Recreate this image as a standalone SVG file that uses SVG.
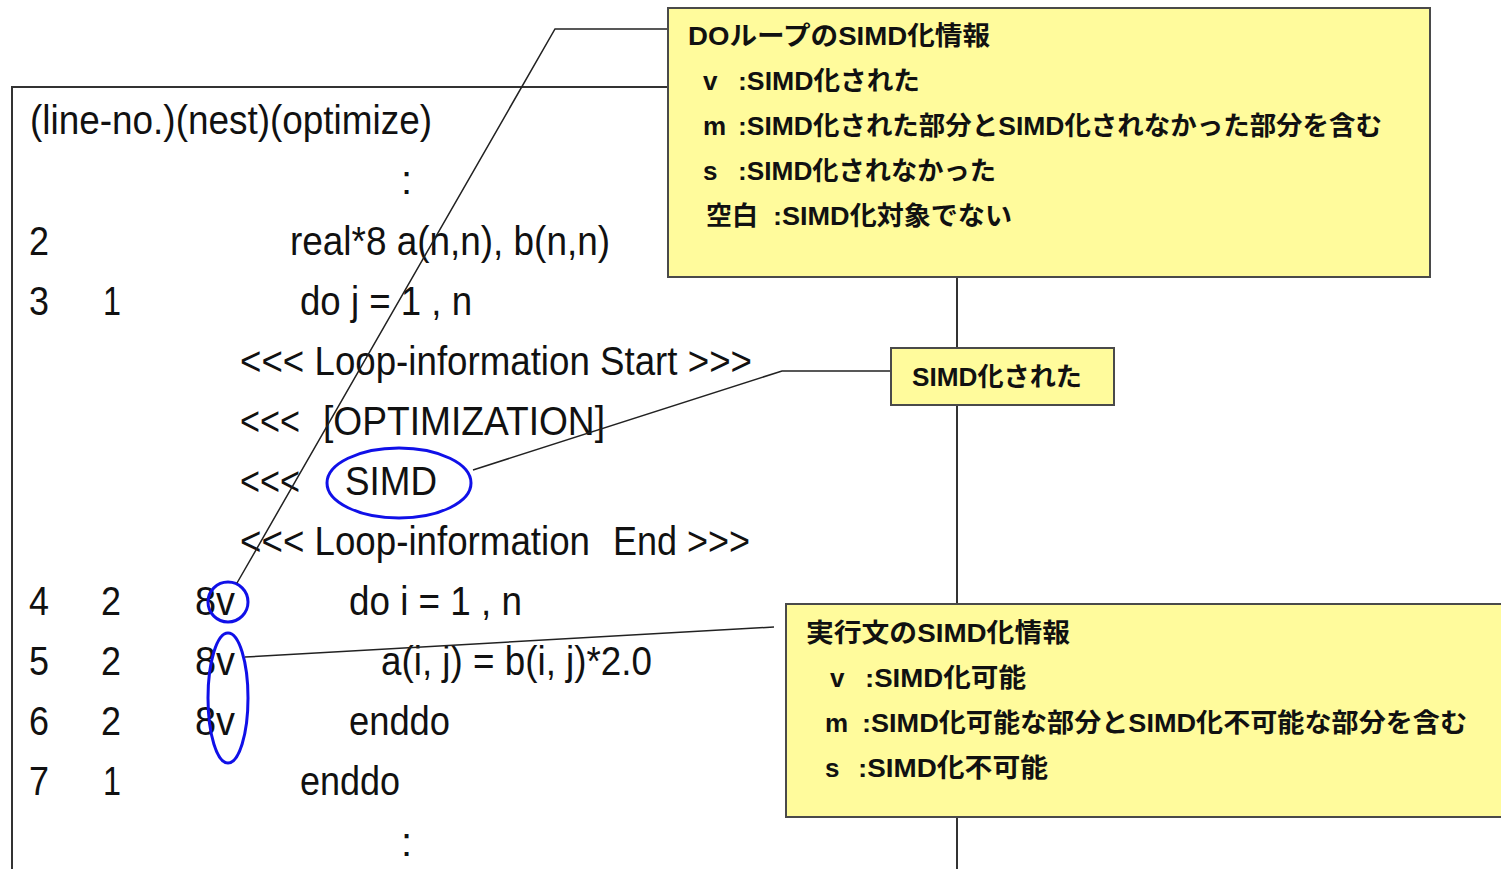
<svg xmlns="http://www.w3.org/2000/svg" width="1501" height="869" viewBox="0 0 1501 869">
<style>
.code{font-family:"Liberation Sans",Arial,sans-serif;font-size:40px;fill:#111}
.note{font-family:"Liberation Sans","Noto Sans CJK JP",sans-serif;font-size:26px;font-weight:bold;fill:#111}
.box{fill:#FFFB9C;stroke:#4a4a4a;stroke-width:2}
.frame{fill:none;stroke:#333;stroke-width:2}
.lead{fill:none;stroke:#222;stroke-width:1.5}
.mark{fill:none;stroke:#1010E8;stroke-width:3}
</style>
<rect width="1501" height="869" fill="#fff"/>
<g id="listing">
<path class="frame" d="M12,869 V87 H957 V869"/>
<text class="code" x="30" y="134" textLength="402" lengthAdjust="spacingAndGlyphs">(line-no.)(nest)(optimize)</text>
<text class="code" x="401" y="194">:</text>
<text class="code" x="29" y="255" textLength="20" lengthAdjust="spacingAndGlyphs">2</text>
<text class="code" x="290" y="255" textLength="320" lengthAdjust="spacingAndGlyphs">real*8 a(n,n), b(n,n)</text>
<text class="code" x="29" y="315" textLength="20" lengthAdjust="spacingAndGlyphs">3</text>
<text class="code" x="103" y="315" textLength="18" lengthAdjust="spacingAndGlyphs">1</text>
<text class="code" x="300" y="315" textLength="172" lengthAdjust="spacingAndGlyphs">do j = 1 , n</text>
<text class="code" x="240" y="375" textLength="512" lengthAdjust="spacingAndGlyphs">&lt;&lt;&lt; Loop-information Start &gt;&gt;&gt;</text>
<text class="code" x="240" y="435" textLength="60" lengthAdjust="spacingAndGlyphs">&lt;&lt;&lt;</text>
<text class="code" x="323" y="435" textLength="282" lengthAdjust="spacingAndGlyphs">[OPTIMIZATION]</text>
<text class="code" x="240" y="495" textLength="60" lengthAdjust="spacingAndGlyphs">&lt;&lt;&lt;</text>
<text class="code" x="345" y="495" textLength="92" lengthAdjust="spacingAndGlyphs">SIMD</text>
<text class="code" x="240" y="555" textLength="350" lengthAdjust="spacingAndGlyphs">&lt;&lt;&lt; Loop-information</text>
<text class="code" x="613" y="555" textLength="137" lengthAdjust="spacingAndGlyphs">End &gt;&gt;&gt;</text>
<text class="code" x="29" y="615" textLength="20" lengthAdjust="spacingAndGlyphs">4</text>
<text class="code" x="101" y="615" textLength="20" lengthAdjust="spacingAndGlyphs">2</text>
<text class="code" x="195" y="615" textLength="40" lengthAdjust="spacingAndGlyphs">8v</text>
<text class="code" x="349" y="615" textLength="173" lengthAdjust="spacingAndGlyphs">do i = 1 , n</text>
<text class="code" x="29" y="675" textLength="20" lengthAdjust="spacingAndGlyphs">5</text>
<text class="code" x="101" y="675" textLength="20" lengthAdjust="spacingAndGlyphs">2</text>
<text class="code" x="195" y="675" textLength="40" lengthAdjust="spacingAndGlyphs">8v</text>
<text class="code" x="381" y="675" textLength="271" lengthAdjust="spacingAndGlyphs">a(i, j) = b(i, j)*2.0</text>
<text class="code" x="29" y="735" textLength="20" lengthAdjust="spacingAndGlyphs">6</text>
<text class="code" x="101" y="735" textLength="20" lengthAdjust="spacingAndGlyphs">2</text>
<text class="code" x="195" y="735" textLength="40" lengthAdjust="spacingAndGlyphs">8v</text>
<text class="code" x="349" y="735" textLength="101" lengthAdjust="spacingAndGlyphs">enddo</text>
<text class="code" x="29" y="795" textLength="20" lengthAdjust="spacingAndGlyphs">7</text>
<text class="code" x="103" y="795" textLength="18" lengthAdjust="spacingAndGlyphs">1</text>
<text class="code" x="300" y="795" textLength="100" lengthAdjust="spacingAndGlyphs">enddo</text>
<text class="code" x="401" y="856">:</text>
</g>
<g id="marks">
<ellipse class="mark" cx="399" cy="483" rx="72" ry="35"/>
<ellipse class="mark" cx="228" cy="602" rx="20" ry="20"/>
<ellipse class="mark" cx="228" cy="698" rx="20" ry="65"/>
</g>
<g id="connectors">
<polyline class="lead" points="668,29 555,29 237,583"/>
<polyline class="lead" points="891,371 782,371 473,470"/>
<line class="lead" x1="774" y1="627" x2="245" y2="657"/>
</g>
<g id="note-do-loop">
<rect class="box" x="668" y="8" width="762" height="269"/>
<text class="note" x="688" y="45" textLength="302" lengthAdjust="spacingAndGlyphs">DOループのSIMD化情報</text>
<text class="note" x="703" y="90">v</text>
<text class="note" x="738" y="90" textLength="182" lengthAdjust="spacingAndGlyphs">:SIMD化された</text>
<text class="note" x="703" y="135">m</text>
<text class="note" x="738" y="135" textLength="644" lengthAdjust="spacingAndGlyphs">:SIMD化された部分とSIMD化されなかった部分を含む</text>
<text class="note" x="703" y="180">s</text>
<text class="note" x="738" y="180" textLength="258" lengthAdjust="spacingAndGlyphs">:SIMD化されなかった</text>
<text class="note" x="706" y="225">空白</text>
<text class="note" x="773" y="225" textLength="239" lengthAdjust="spacingAndGlyphs">:SIMD化対象でない</text>
</g>
<g id="note-simd">
<rect class="box" x="891" y="348" width="223" height="57"/>
<text class="note" x="912" y="386" textLength="170" lengthAdjust="spacingAndGlyphs">SIMD化された</text>
</g>
<g id="note-stmt">
<rect class="box" x="786" y="604" width="730" height="213"/>
<text class="note" x="806" y="642" textLength="264" lengthAdjust="spacingAndGlyphs">実行文のSIMD化情報</text>
<text class="note" x="830" y="687">v</text>
<text class="note" x="865" y="687" textLength="161" lengthAdjust="spacingAndGlyphs">:SIMD化可能</text>
<text class="note" x="825" y="732">m</text>
<text class="note" x="862" y="732" textLength="605" lengthAdjust="spacingAndGlyphs">:SIMD化可能な部分とSIMD化不可能な部分を含む</text>
<text class="note" x="825" y="777">s</text>
<text class="note" x="858" y="777" textLength="190" lengthAdjust="spacingAndGlyphs">:SIMD化不可能</text>
</g>
</svg>
